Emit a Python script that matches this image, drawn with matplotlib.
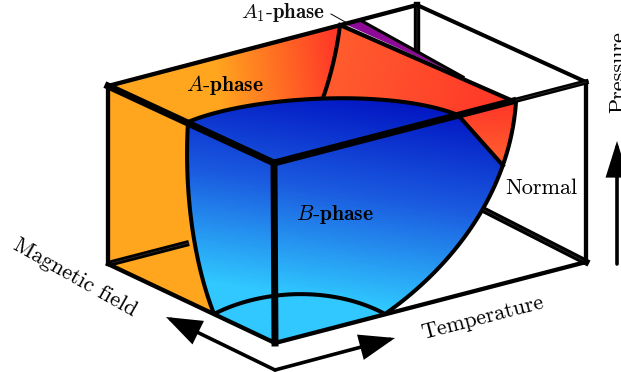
from __future__ import annotations

import numpy as np
from matplotlib import pyplot as plt
from matplotlib.colors import LinearSegmentedColormap
from matplotlib.patches import PathPatch, Polygon
from matplotlib.path import Path

# box corners, in picture pixels
left_top = (108, 86)
left_bot = (108, 264)
front_top = (274, 163)
front_bot = (275, 343)
back_top = (417, 5)
right_top = (586, 82)
right_bot = (586, 262)
top_meet = (513, 101)

# phase boundaries, each one cubic bezier (end, control, control, end)
b_left_edge = [(188, 122), (184, 190), (193, 260), (214, 314)]
b_top_edge = [(188, 122), (250, 96), (390, 88), (458, 115)]
b_arc_edge = [(214, 314), (265, 288), (335, 287), (385, 314)]
normal_edge = [(516, 102), (510, 190), (455, 265), (385, 314)]
a_split_edge = [(340, 25), (337, 50), (331, 75), (323, 98)]

purple_zone = [(347, 25), (360, 20), (417, 50), (463, 77), (420, 58)]

orange = "#FFA51E"
red = "#FF3828"
red_soft = "#FF5A2E"
purple = "#8C0A96"
blue_colors = ["#0010C0", "#1B5CE0", "#30C8FF"]

labels = ["$A$-$\\mathbf{phase}$", "$B$-$\\mathbf{phase}$", "$A_1$-$\\mathbf{phase}$",
          "Normal", "Magnetic field", "Temperature", "Pressure"]


def _bezier(ctrl, t0=0.0, t1=1.0):
    p = np.array(ctrl, dtype=float)
    t = np.linspace(t0, t1, 60)[:, None]
    return ((1 - t) ** 3 * p[0] + 3 * (1 - t) ** 2 * t * p[1]
            + 3 * (1 - t) * t ** 2 * p[2] + t ** 3 * p[3])


def _outline(*parts):
    pts = np.vstack([np.atleast_2d(np.array(part, dtype=float)) for part in parts])
    return Path(np.vstack([pts, pts[0]]), closed=True)


def _gradient(ax, outline, start, stop, colors):
    # fill the outline with a linear gradient running from start to stop
    clip = PathPatch(outline, transform=ax.transData, facecolor="none", edgecolor="none")
    ax.add_patch(clip)
    yy, xx = np.mgrid[0:372, 0:621]
    dx, dy = stop[0] - start[0], stop[1] - start[1]
    t = ((xx + 0.5 - start[0]) * dx + (yy + 0.5 - start[1]) * dy) / (dx * dx + dy * dy)
    cmap = LinearSegmentedColormap.from_list("fill", colors)
    im = ax.imshow(np.clip(t, 0, 1), cmap=cmap, vmin=0, vmax=1, extent=(0, 621, 372, 0),
                   interpolation="bilinear", zorder=1)
    im.set_clip_path(clip)


def _line(ax, a, b, width, core=False, zorder=3, cap="projecting"):
    ax.plot([a[0], b[0]], [a[1], b[1]], color="black", lw=width, solid_capstyle=cap, zorder=zorder)
    if core:
        ax.plot([a[0], b[0]], [a[1], b[1]], color="#444444", lw=0.35, zorder=zorder)


def _curve(ax, ctrl, width=2.9):
    xy = _bezier(ctrl)
    ax.plot(xy[:, 0], xy[:, 1], color="black", lw=width, solid_capstyle="butt", zorder=3)


def _arrow(ax, tail, head, width=0.42):
    ax.annotate("", xy=head, xytext=tail, zorder=5,
                arrowprops=dict(arrowstyle=f"-|>,head_length=1.15,head_width={width}", color="black",
                                lw=2.6, mutation_scale=18, shrinkA=0, shrinkB=0, joinstyle="miter"))


plt.rcParams["font.family"] = "cmr10"
plt.rcParams["mathtext.fontset"] = "cm"
plt.rcParams["axes.formatter.use_mathtext"] = True

fig = plt.figure(figsize=(6.21, 3.72), dpi=100)
ax = fig.add_axes([0, 0, 1, 1])
ax.set_xlim(0, 621)
ax.set_ylim(372, 0)
ax.axis("off")

# hidden back edges, partly covered by the phases
_line(ax, right_bot, (480, 208), 4.8, core=True, zorder=0.5)
_line(ax, back_top, (417, 52), 4.6, core=True, zorder=0.5)

# left face and the red parts of the top
ax.add_patch(Polygon(np.vstack([_bezier(b_left_edge), [left_bot, left_top]]),
                     facecolor=orange, edgecolor="none", zorder=0.8))
_gradient(ax, _outline([left_top], _bezier(a_split_edge), _bezier(b_top_edge, 0.5, 0.0)),
          (218, 80), (338, 66), [orange, red])
_gradient(ax, _outline(_bezier(a_split_edge), _bezier(b_top_edge, 0.5, 1.0), [top_meet]),
          (345, 60), (500, 100), [red_soft, red])
_gradient(ax, _outline([b_top_edge[3]], _bezier(normal_edge, 0.0, 0.25)),
          (490, 105), (490, 155), [red, red_soft])
ax.add_patch(Polygon(purple_zone, facecolor=purple, edgecolor="none", zorder=2))

# B-phase body
b_outline = _outline(_bezier(b_top_edge), _bezier(normal_edge, 0.25, 1.0), [front_bot], _bezier(b_left_edge)[::-1])
_gradient(ax, b_outline, (392, 92), (360, 305), blue_colors)

# back edge seen through the orange face
_line(ax, left_bot, (189, 243), 4.4, core=True, zorder=1.5, cap="butt")

# box outline
_line(ax, left_top, back_top, 3.1)
_line(ax, back_top, right_top, 2.9)
_line(ax, right_top, right_bot, 3.1)
_line(ax, right_bot, front_bot, 3.1)
_line(ax, left_top, left_bot, 3.1)
_line(ax, left_bot, front_bot, 3.1)
_line(ax, left_top, front_top, 5.0)
_line(ax, front_top, top_meet, 5.0)
_line(ax, top_meet, right_top, 3.8, core=True)
_line(ax, front_top, front_bot, 5.0)

# boundaries
for edge in (b_left_edge, b_top_edge, b_arc_edge, normal_edge, a_split_edge):
    _curve(ax, edge)
_line(ax, b_top_edge[3], _bezier(normal_edge, 0.25, 0.25)[0], 2.9)
_line(ax, a_split_edge[0], top_meet, 3.0)
_line(ax, (360, 20), (463, 77), 2.2)
_line(ax, (331, 14), (347, 23), 0.7)

# direction arrows
_arrow(ax, (275, 370), (166, 317))
_arrow(ax, (275, 370), (395, 338))
_arrow(ax, (617, 264), (617, 141), width=0.36)

ax.text(225, 85, labels[0], fontsize=15.5, ha="center", va="center", color="black", zorder=6)
ax.text(335, 215, labels[1], fontsize=15.5, ha="center", va="center", color="black", zorder=6)
ax.text(283, 12, labels[2], fontsize=15, ha="center", va="center", color="#111111", zorder=6)
ax.text(541, 188, labels[3], fontsize=16, ha="center", va="center", color="black", zorder=6)
ax.text(75, 278, labels[4], fontsize=16, rotation=-29.5, rotation_mode="anchor", ha="center", va="center", color="black")
ax.text(483, 318, labels[5], fontsize=16, rotation=14.5, rotation_mode="anchor", ha="center", va="center", color="black")
ax.text(619, 72, labels[6], fontsize=16, rotation=90, rotation_mode="anchor", ha="center", va="center", color="black")

fig.savefig("out.png", dpi=100)
